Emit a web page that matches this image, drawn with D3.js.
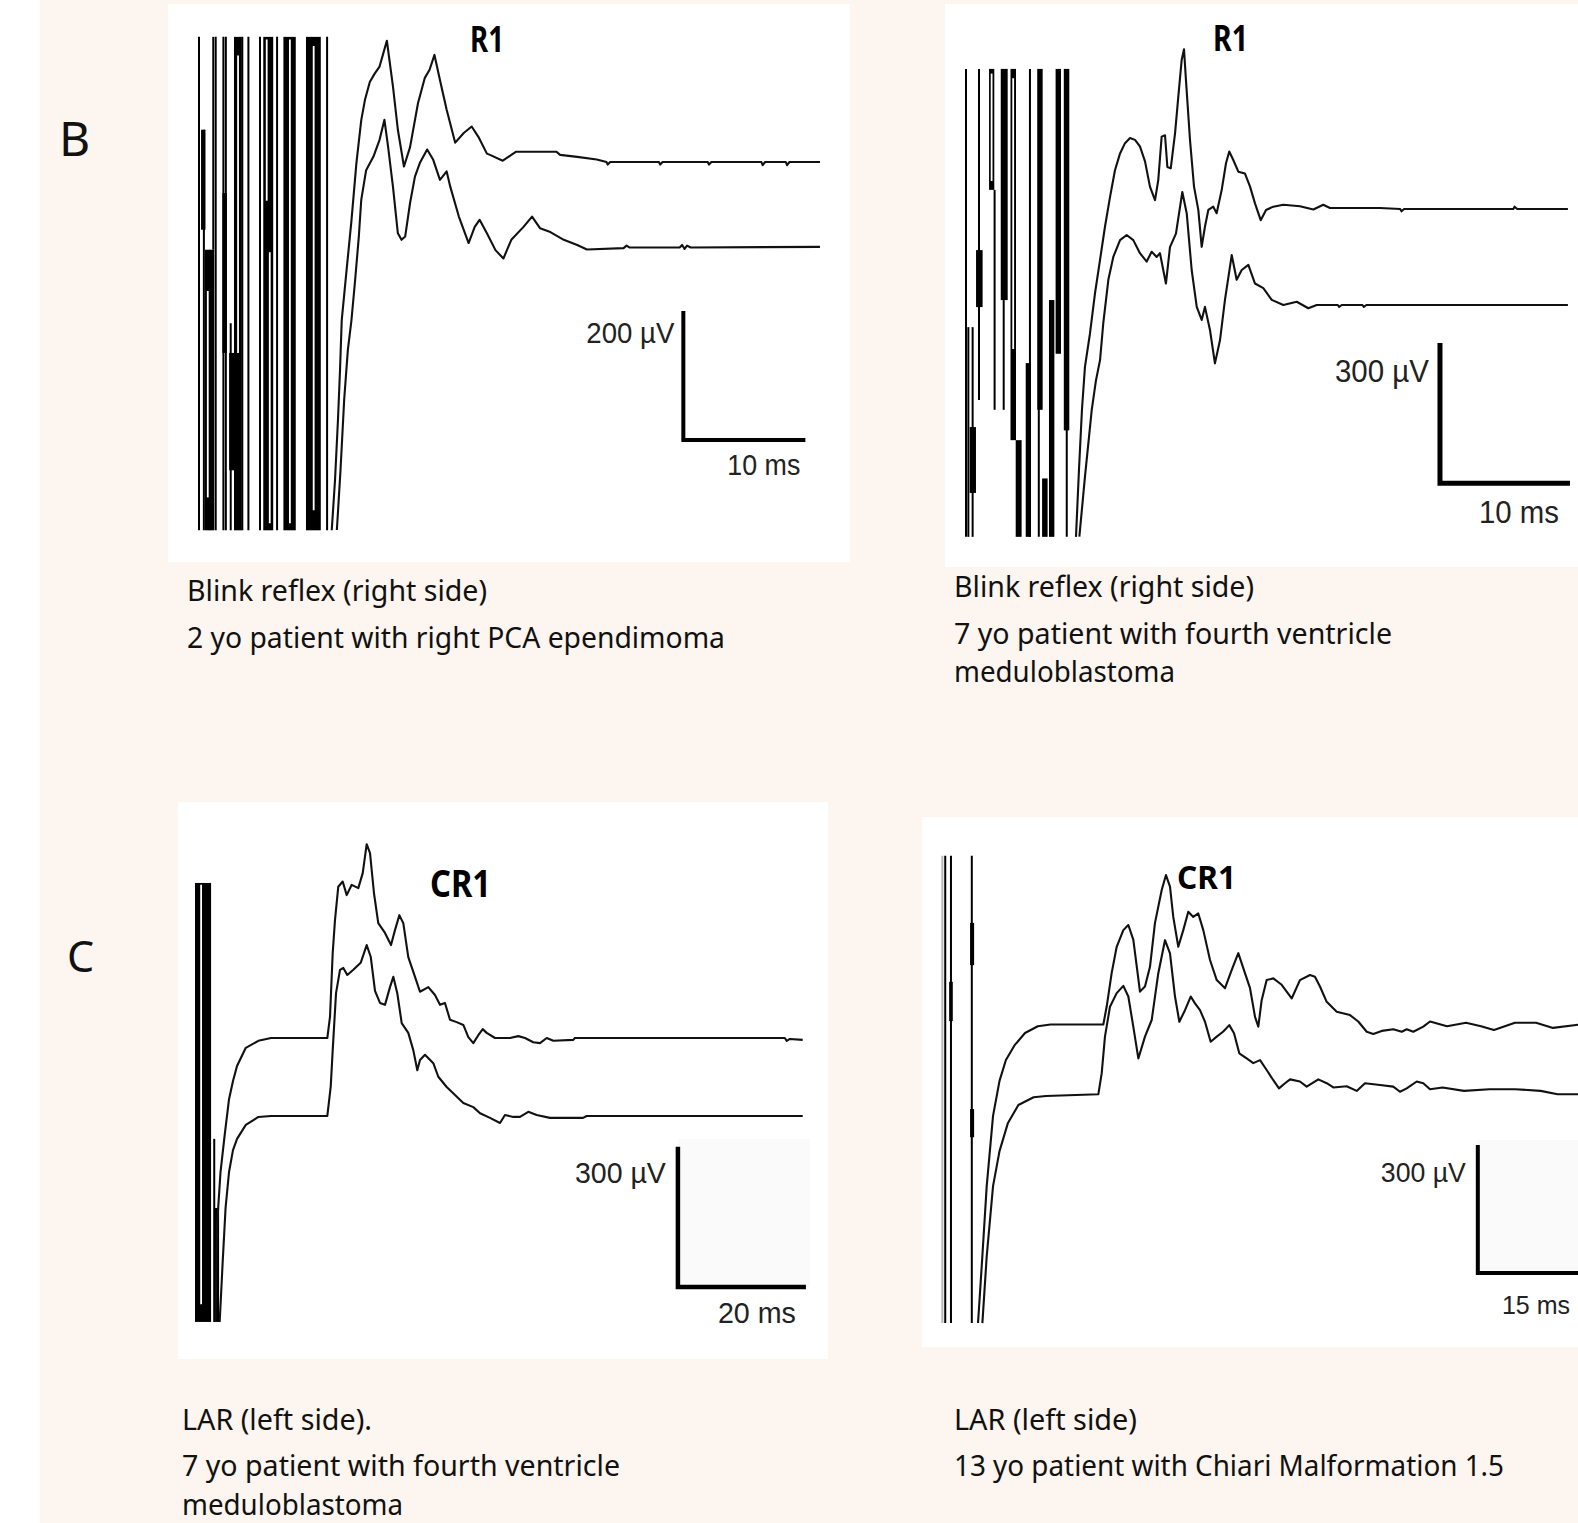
<!DOCTYPE html>
<html><head><meta charset="utf-8">
<script src="https://cdn.jsdelivr.net/npm/d3@7"></script>
<style>body{margin:0;background:#fff}svg{display:block}</style>
</head><body>
<svg id="c" width="1578" height="1523"></svg>
<script>
// ---------------- DATA (time in ms, amplitude in µV) ----------------
const panelLetters = ["B", "C"];
const peakLabels = ["R1", "R1", "CR1", "CR1"];
const barMs = [10, 10, 20, 15];
const barUv = [200, 300, 300, 300];
const barTimeLabels = ["10 ms", "10 ms", "20 ms", "15 ms"];
const barAmpLabels = ["200 µV", "300 µV", "300 µV", "300 µV"];
const captions = [
  ["Blink reflex (right side)", "2 yo patient with right PCA ependimoma"],
  ["Blink reflex (right side)", "7 yo patient with fourth ventricle", "meduloblastoma"],
  ["LAR (left side).", "7 yo patient with fourth ventricle", "meduloblastoma"],
  ["LAR (left side)", "13 yo patient with Chiari Malformation 1.5"]
];

// Panel B, left: blink reflex, 2 yo
const bLeftUpper = [[10.88,-571],[11.15,-493],[11.39,-400],[11.56,-322],[11.7,-245],[12.1,-167],[12.5,-90],[12.9,-2],[13.3,65],[13.6,96],[14.0,124],[14.4,137],[14.8,148],[15.1,168],[15.4,188],[15.9,117],[16.3,50],[16.8,-7],[17.3,23],[17.95,91],[18.5,130],[18.9,143],[19.3,166],[19.75,127],[20.3,81],[21.0,30],[21.7,45],[22.35,55],[22.9,39],[23.6,13],[23.85,11],[24.9,2],[25.6,11],[26.0,16],[29.3,16],[29.6,11],[31.0,8],[32.6,4],[33.4,0],[33.5,-4],[33.7,0],[37.7,0],[37.8,-4],[38.0,0],[41.7,0],[41.8,-4],[42.0,0],[46.1,0],[46.2,-5],[46.4,0],[48.1,0],[48.2,-5],[48.4,0],[50.9,0]];
const bLeftLower = [[11.3,-438],[11.6,-345],[11.9,-236],[12.2,-159],[12.5,-112],[12.8,-50],[13.1,17],[13.3,74],[13.7,120],[14.3,141],[14.8,167],[15.2,198],[15.5,156],[15.9,94],[16.3,22],[16.6,12],[16.9,17],[17.3,69],[17.7,110],[18.1,131],[18.7,152],[19.2,136],[19.75,105],[20.3,118],[20.6,94],[21.3,48],[22.1,7],[22.6,32],[23.0,43],[23.6,22],[24.3,-4],[24.95,-17],[25.6,12],[26.6,32],[27.3,48],[27.95,30],[28.8,24],[29.9,12],[31.0,4],[31.8,-3],[34.8,-1],[35.05,3],[35.3,0],[39.4,0],[39.6,4],[39.8,-2],[40.0,3],[40.3,0],[50.9,1]];
// stimulus artifact strokes: [t start, t end, µV top, µV bottom]
const bLeftArtifact = [[0,0,194,-571],[0.25,0.45,50,-105],[0.4,0.4,50,-571],[0.57,0.85,-136,-571],[0.95,1.17,-136,-571],[1.17,1.17,194,-136],[1.37,1.37,194,-571],[2.0,2.0,194,-571],[2.2,2.2,194,-571],[2.0,2.2,-48,-296],[2.55,2.95,-296,-478],[2.6,2.6,-250,-571],[2.95,3.42,194,-571],[3.55,3.55,194,-571],[4.05,4.05,194,-571],[5.0,5.0,194,-571],[5.35,6.0,194,-571],[6.4,6.4,194,-571],[7.0,7.85,194,-571],[8.85,9.9,194,-571],[10.5,10.5,194,-571]];
// white slivers inside the dense artifact bars: [t, µV top, µV bottom]
const bLeftGaps = [[3.2,165,-296],[5.55,190,-60],[5.8,-140,-560],[7.45,190,-560],[9.4,180,-540],[0.72,-200,-520]];

// Panel B, right: blink reflex, 7 yo
const bRightUpper = [[8.46,-702],[8.69,-559],[8.92,-430],[9.15,-338],[9.54,-266],[9.92,-181],[10.31,-109],[10.69,-38],[11.08,26],[11.46,83],[11.85,119],[12.23,141],[12.62,152],[13.0,148],[13.38,134],[13.77,102],[14.15,48],[14.54,19],[14.79,62],[15.05,155],[15.31,158],[15.49,90],[15.75,87],[16.08,162],[16.33,240],[16.59,319],[16.77,342],[16.92,276],[17.23,148],[17.54,48],[17.87,-2],[18.13,-81],[18.38,-38],[18.64,-2],[19.02,5],[19.28,-9],[19.67,41],[20.0,98],[20.25,123],[20.56,105],[20.95,80],[21.46,76],[21.85,48],[22.23,12],[22.67,-24],[23.08,-2],[23.64,5],[24.41,9],[25.69,6],[26.72,-1],[27.48,9],[28.0,2],[31.85,2],[33.4,0],[33.5,-5],[33.7,0],[42.1,0],[42.2,5],[42.4,0],[46.3,0]];
const bRightLower = [[8.72,-496],[9.15,-368],[9.67,-225],[10.0,-161],[10.31,-118],[10.56,-39],[10.95,54],[11.33,103],[11.85,139],[12.36,150],[12.87,139],[13.38,111],[13.9,93],[14.28,114],[14.67,103],[14.92,111],[15.38,46],[15.69,124],[16.15,153],[16.64,242],[16.98,196],[17.36,75],[17.75,-4],[18.13,-32],[18.38,-4],[18.77,-54],[19.15,-125],[19.54,-75],[19.92,11],[20.44,107],[20.82,54],[21.21,75],[21.72,86],[22.23,46],[22.87,36],[23.52,11],[24.41,0],[25.44,7],[26.33,-7],[26.98,0],[28.6,0],[28.7,-4],[28.9,0],[30.5,0],[30.6,-4],[30.8,0],[46.3,0]];
const bRightArtifact = [[0,0,300,-702],[0.18,0.18,-253,-702],[0.51,0.51,-253,-702],[0.36,0.69,-467,-608],[0.85,1.2,-88,-210],[1.0,1.0,300,-409],[1.85,2.1,300,41],[2.2,2.2,41,-430],[2.75,3.13,300,-195],[2.9,2.9,-195,-430],[3.5,3.77,300,-495],[3.9,4.2,-495,-702],[4.67,4.92,-330,-702],[4.92,4.92,300,-702],[5.56,5.82,300,-430],[5.6,5.6,300,-702],[5.93,6.2,-577,-702],[6.46,6.72,-195,-702],[6.97,7.23,300,-310],[7.6,7.87,300,-474],[7.75,7.75,300,-702]];
const bRightGaps = [[1.97,290,60],[3.63,280,-300]];

// Panel C, left: LAR, 7 yo
const cLeftUpper = [[3.05,-608],[3.28,-403],[3.83,-287],[4.48,-208],[5.16,-131],[5.78,-92],[6.41,-60],[7.78,-21],[9.75,-6],[11.72,0],[20.52,0],[20.94,46],[21.36,182],[21.72,253],[22.23,324],[22.92,335],[23.55,306],[24.33,328],[25.36,321],[26.05,353],[26.67,415],[27.19,396],[27.81,310],[28.48,246],[29.53,225],[30.47,199],[31.09,231],[31.77,263],[32.39,246],[33.17,173],[34.22,131],[35.0,99],[36.3,109],[37.34,92],[38.13,71],[38.9,75],[39.69,39],[40.73,34],[41.77,28],[42.55,2],[43.33,-11],[44.11,6],[44.8,19],[45.42,11],[46.72,0],[49.06,0],[50.36,4],[51.41,0],[52.7,-9],[53.75,-11],[54.8,0],[55.83,-6],[58.95,-4],[59.2,0],[92.0,0],[92.3,-6],[92.8,-2],[94.8,-4]];
const cLeftLower = [[3.7,-441],[4.16,-315],[4.62,-197],[5.16,-120],[5.78,-73],[6.41,-49],[7.78,-19],[9.75,-2],[11.72,0],[20.52,0],[21.05,63],[21.36,141],[21.88,263],[22.5,313],[23.02,317],[23.64,302],[24.58,313],[25.73,328],[26.67,366],[27.3,341],[27.97,268],[28.75,242],[29.53,238],[30.31,276],[30.83,298],[31.45,263],[32.14,199],[33.17,178],[33.95,141],[34.58,98],[35.0,120],[35.78,131],[37.08,113],[37.86,84],[39.17,62],[40.47,45],[41.77,28],[43.33,19],[44.38,6],[45.94,-4],[47.5,-15],[48.28,2],[49.58,-2],[50.63,-2],[51.92,9],[53.23,2],[55.31,-4],[60.47,-4],[61.05,0],[94.8,0]];
const cLeftArtifact = [[0,2.2,332,-608],[2.85,2.85,-216,-608],[2.95,3.45,-364,-608]];
const cLeftGaps = [[0.8,328,-570]];

// Panel C, right: LAR, 13 yo
const cRightUpper = [[4.15,-699],[4.68,-542],[5.21,-378],[5.98,-214],[6.77,-132],[7.55,-83],[8.59,-49],[9.88,-20],[11.44,-4],[13.0,0],[19.43,0],[19.84,42],[20.45,121],[21.06,182],[21.87,221],[22.48,233],[23.09,198],[23.9,77],[24.51,89],[25.12,135],[25.73,238],[26.55,315],[27.07,350],[27.56,323],[27.96,252],[28.57,182],[29.18,221],[29.79,264],[30.4,252],[31.01,260],[31.62,221],[32.44,151],[33.26,104],[34.27,85],[35.09,128],[35.89,167],[36.5,132],[37.32,85],[37.93,18],[38.33,-5],[38.74,57],[39.35,104],[40.16,108],[41.18,93],[42.4,61],[43.41,104],[44.63,116],[45.24,112],[45.85,89],[46.67,53],[47.89,30],[49.51,22],[50.52,7],[51.55,-17],[52.35,-22],[53.38,-15],[54.79,-11],[55.82,-17],[56.43,-11],[57.23,-17],[58.45,-5],[59.27,7],[61.34,-4],[63.66,4],[65.49,-4],[67.07,-13],[69.63,4],[72.2,4],[74.27,-8],[77.56,0]];
const cRightLower = [[4.68,-536],[5.21,-379],[5.98,-215],[6.77,-133],[7.8,-67],[9.07,-25],[10.93,-7],[12.44,-4],[18.82,0],[19.23,49],[19.63,135],[20.24,205],[21.06,237],[21.87,254],[22.48,229],[23.09,158],[23.7,84],[24.51,135],[25.33,174],[26.13,283],[26.95,361],[27.56,330],[28.17,229],[28.7,170],[29.39,197],[30.09,229],[30.61,213],[31.22,197],[31.83,170],[32.52,123],[33.26,135],[34.06,147],[34.79,162],[35.37,143],[36.01,96],[36.91,84],[37.72,73],[38.54,80],[39.35,57],[40.16,33],[40.85,14],[41.59,26],[42.2,35],[43.41,30],[44.23,18],[45.65,35],[46.67,26],[47.48,16],[49.11,19],[50.33,8],[51.34,26],[53.17,22],[54.79,18],[55.61,6],[56.43,14],[57.65,30],[58.45,26],[59.27,12],[60.8,16],[63.41,8],[66.52,12],[69.63,12],[72.76,8],[74.83,0],[77.56,0]];
const cRightArtifact = [[0.15,0.15,395,-699],[0.85,0.85,395,-699],[0.75,0.95,100,8],[3.39,3.39,395,-699],[3.3,3.55,238,139],[3.3,3.55,-198,-264]];
const cRightGhost = [[-0.2,395,-699]];

// ---------------- LAYOUT ----------------
const layout = [
  {frame:[168,4,682,558], x0:199, pxMs:12.2, tDom:[0,52], y0:162, pxUv:0.645, vDom:[-600,210], lowerOff:-132.6,
   upper:bLeftUpper, lower:bLeftLower, art:bLeftArtifact, gaps:bLeftGaps, ghost:[],
   bar:[39.7,-431], bw:4, vLab:[9,32,88], tLab:[5,35,73], fs:30, tfs:30, peak:[470,52,36,34], shade:null,
   cap:[187,[601,648],[300,538]]},
  {frame:[945,4,633,563], x0:966, pxMs:13, tDom:[0,47], y0:209, pxUv:0.467, vDom:[-720,360], lowerOff:-205.6,
   upper:bRightUpper, lower:bRightLower, art:bRightArtifact, gaps:bRightGaps, ghost:[],
   bar:[36.46,-587], bw:5, vLab:[11,39,94], tLab:[11,40,80], fs:32, tfs:32, peak:[1213,51,35,35], shade:null,
   cap:[954,[597,644,682],[300,438,221]]},
  {frame:[178,802,650,557], x0:196, pxMs:6.4, tDom:[0,97], y0:1038, pxUv:0.467, vDom:[-620,350], lowerOff:-167,
   upper:cLeftUpper, lower:cLeftLower, art:cLeftArtifact, gaps:cLeftGaps, ghost:[],
   bar:[75.3,-533], bw:4.5, vLab:[12,36,91], tLab:[10,36,78], fs:30, tfs:30, peak:[430,897,37,61], shade:[1139,1287,810],
   cap:[182,[1430,1476,1515],[190,438,221]]},
  {frame:[922,817,656,530], x0:944, pxMs:8.2, tDom:[-1,81], y0:1024.5, pxUv:0.427, vDom:[-720,400], lowerOff:-163.5,
   upper:cRightUpper, lower:cRightLower, art:cRightArtifact, gaps:[], ghost:cRightGhost,
   bar:[65.1,-582], bw:4, vLab:[12,37,85], tLab:[30,41,null], fs:28, tfs:25, peak:[1177,889,33,59], shade:[1140,1273,1578],
   cap:[954,[1430,1476],[183,550]]}
];

// ---------------- DRAW ----------------
const svg = d3.select("#c");
svg.append("rect").attr("width",1578).attr("height",1523).attr("fill","#ffffff");
svg.append("rect").attr("x",40).attr("width",1538).attr("height",1523).attr("fill","#fdf5ef");

// panel letters
[[panelLetters[0],59,156,48],[panelLetters[1],67,972,43]].forEach(([s,x,y,fs])=>{
  svg.append("text").attr("x",x).attr("y",y).text(s)
    .attr("font-family","'Noto Sans', sans-serif").attr("font-size",fs).attr("fill","#111");
});

function label(g, s, x, y, opts){
  const t = g.append("text").attr("x",x).attr("y",y).text(s)
    .attr("font-family",opts.font).attr("font-size",opts.size).attr("fill",opts.fill||"#111")
    .attr("font-weight",opts.weight||400).attr("text-anchor",opts.anchor||"start");
  if (opts.len) t.attr("textLength",opts.len).attr("lengthAdjust","spacingAndGlyphs");
  return t;
}

layout.forEach((p,i)=>{
  const g = svg.append("g");
  const [fx,fy,fw,fh] = p.frame;
  g.append("rect").attr("x",fx).attr("y",fy).attr("width",fw).attr("height",fh).attr("fill","#ffffff");

  const x = d3.scaleLinear().domain(p.tDom).range(p.tDom.map(t=>p.x0 + t*p.pxMs));
  const y = d3.scaleLinear().domain(p.vDom).range(p.vDom.map(v=>p.y0 - v*p.pxUv));

  if (p.shade){
    const bx = x(p.bar[0]);
    g.append("rect").attr("x",bx).attr("y",p.shade[0]).attr("width",p.shade[2]-bx)
      .attr("height",p.shade[1]-p.shade[0]).attr("fill","#fafafa");
  }

  // stimulus artifact
  p.ghost.forEach(d=>{
    g.append("line").attr("x1",x(d[0])).attr("x2",x(d[0])).attr("y1",y(d[1])).attr("y2",y(d[2]))
      .attr("stroke","#b8b8b8").attr("stroke-width",2);
  });
  p.art.forEach(d=>{
    if (d[0]===d[1]){
      g.append("line").attr("x1",x(d[0])).attr("x2",x(d[0])).attr("y1",y(d[2])).attr("y2",y(d[3]))
        .attr("stroke","#000").attr("stroke-width",2);
    } else {
      g.append("rect").attr("x",x(d[0])-1).attr("width",Math.max(2,x(d[1])-x(d[0])+2))
        .attr("y",y(d[2])).attr("height",y(d[3])-y(d[2])).attr("fill","#000");
    }
  });
  p.gaps.forEach(d=>{
    g.append("line").attr("x1",x(d[0])).attr("x2",x(d[0])).attr("y1",y(d[1])).attr("y2",y(d[2]))
      .attr("stroke","#fff").attr("stroke-width",1.8);
  });

  // traces
  const line = off => d3.line().x(d=>x(d[0])).y(d=>y(d[1]+off));
  [[p.upper,0],[p.lower,p.lowerOff]].forEach(([data,off])=>{
    g.append("path").attr("d",line(off)(data)).attr("fill","none")
      .attr("stroke","#111").attr("stroke-width",2.1).attr("stroke-linejoin","round");
  });

  // calibration bar
  const bx = x(p.bar[0]), bx2 = x(p.bar[0]+barMs[i]);
  const by = y(p.bar[1]), byTop = y(p.bar[1]+barUv[i]);
  g.append("path").attr("d",`M${bx},${byTop}L${bx},${by}L${bx2},${by}`)
    .attr("fill","none").attr("stroke","#000").attr("stroke-width",p.bw).attr("stroke-linejoin","miter");
  const sf = "'Liberation Sans', Arial, sans-serif";
  label(g, barAmpLabels[i], bx - p.vLab[0], byTop + p.vLab[1], {font:sf,size:p.fs,anchor:"end",len:p.vLab[2],fill:"#222"});
  label(g, barTimeLabels[i], Math.min(bx2 - p.tLab[0], 1570), by + p.tLab[1], {font:sf,size:p.tfs,anchor:"end",len:p.tLab[2],fill:"#222"});

  // peak label
  label(g, peakLabels[i], p.peak[0], p.peak[1], {font:"'Noto Sans', sans-serif",size:p.peak[2],weight:700,len:p.peak[3],fill:"#000"});

  // captions
  captions[i].forEach((s,k)=>{
    label(svg, s, p.cap[0], p.cap[1][k], {font:"'Noto Sans', sans-serif",size:29,len:p.cap[2][k],fill:"#111"});
  });
});
</script>
</body></html>
